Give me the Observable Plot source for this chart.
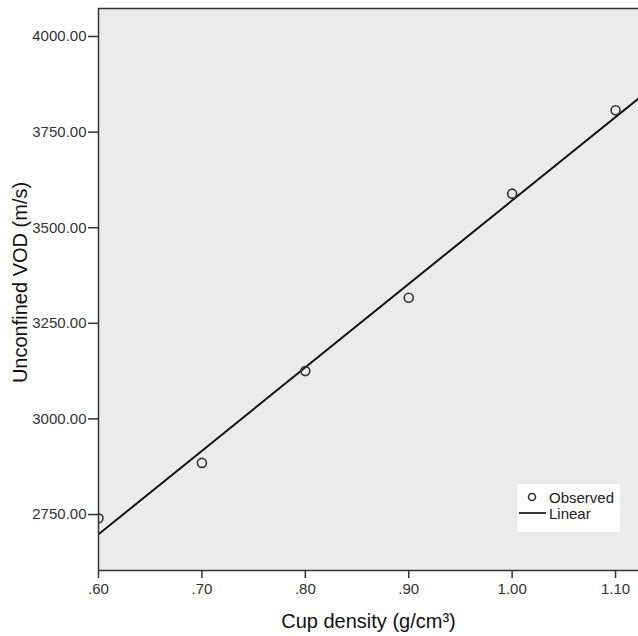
<!DOCTYPE html>
<html>
<head>
<meta charset="utf-8">
<script src="https://cdn.jsdelivr.net/npm/d3@7"></script>
<script src="https://cdn.jsdelivr.net/npm/@observablehq/plot@0.6"></script>
<style>
  html, body { margin: 0; padding: 0; background: #fff; }
  #wrap { position: relative; width: 638px; height: 636px; overflow: hidden; font-family: "Liberation Sans", Arial, sans-serif; }
  #legend { position: absolute; left: 517px; top: 484px; width: 103px; height: 48px; background: #fff; }
</style>
</head>
<body>
<div id="wrap"></div>
<script>
// Data
const cupDensity = [0.60, 0.70, 0.80, 0.90, 1.00, 1.10];
const unconfinedVOD = [2740, 2885, 3125, 3317, 3589, 3807];
const xTicks = [0.60, 0.70, 0.80, 0.90, 1.00, 1.10];
const yTicks = [2750, 3000, 3250, 3500, 3750, 4000];
const xTitle = "Cup density (g/cm³)";
const yTitle = "Unconfined VOD (m/s)";
const legendLabels = ["Observed", "Linear"];

const xDomain = [0.60, 1.1222];
const yDomain = [2603.6, 4073.2];

const points = cupDensity.map((x, i) => ({x, y: unconfinedVOD[i]}));

// Linear least-squares fit
const mx = d3.mean(cupDensity), my = d3.mean(unconfinedVOD);
const slope = d3.sum(points, d => (d.x - mx) * (d.y - my)) / d3.sum(points, d => (d.x - mx) ** 2);
const intercept = my - slope * mx;
const fitLine = xDomain.map(x => ({x, y: intercept + slope * x}));

const fmtX = d => { const s = d3.format(".2f")(d); return d < 1 ? s.replace(/^0/, "") : s; };

const chart = Plot.plot({
  width: 638,
  height: 636,
  marginLeft: 98,
  marginRight: 0,
  marginTop: 8,
  marginBottom: 66,
  style: { fontFamily: "Liberation Sans, Arial, sans-serif", background: "#fff", color: "#333" },
  x: { domain: xDomain },
  y: { domain: yDomain },
  marks: [
    Plot.frame({ fill: "#ebebeb", stroke: "none" }),
    Plot.line(fitLine, { x: "x", y: "y", stroke: "#111", strokeWidth: 2, clip: true }),
    Plot.dot(points, { x: "x", y: "y", r: 4.5, stroke: "#333", strokeWidth: 1.6, fill: "none", clip: true }),
    Plot.ruleY([yDomain[1]], { stroke: "#333", strokeWidth: 1.5 }),
    Plot.ruleY([yDomain[0]], { stroke: "#333", strokeWidth: 1.5 }),
    Plot.ruleX([xDomain[0]], { stroke: "#333", strokeWidth: 1.5 }),
    Plot.axisY(yTicks, { tickFormat: d3.format(".2f"), tickSize: 10, tickPadding: 2, fontSize: 15, label: null, stroke: "#333", strokeWidth: 1.5, fill: "#333" }),
    Plot.axisX(xTicks, { tickFormat: fmtX, tickSize: 8, tickPadding: 5, fontSize: 15, label: null, stroke: "#333", strokeWidth: 1.5, fill: "#333" }),
    Plot.text([xTitle], { frameAnchor: "bottom", dy: 57, fontSize: 20, fill: "#111" }),
    Plot.text([yTitle], { frameAnchor: "left", textAnchor: "middle", dx: -78, dy: -7, rotate: -90, fontSize: 20, fill: "#111" })
  ]
});

const wrap = document.getElementById("wrap");
wrap.appendChild(chart);

// Legend overlay
const leg = document.createElement("div");
leg.id = "legend";
leg.innerHTML = `<svg width="103" height="48" style="font-family:Liberation Sans, Arial, sans-serif">
  <circle cx="15" cy="13" r="3.5" fill="none" stroke="#333" stroke-width="1.6"></circle>
  <text x="32" y="19" font-size="15" fill="#222">${legendLabels[0]}</text>
  <line x1="2" x2="29" y1="29" y2="29" stroke="#222" stroke-width="1.8"></line>
  <text x="32" y="35" font-size="15" fill="#222">${legendLabels[1]}</text>
</svg>`;
wrap.appendChild(leg);
</script>
</body>
</html>
